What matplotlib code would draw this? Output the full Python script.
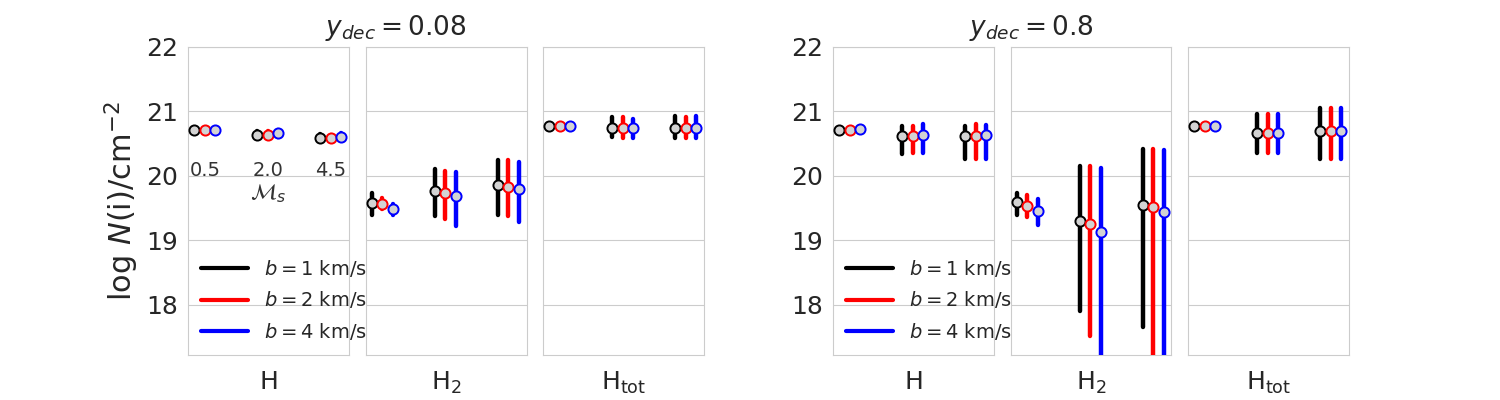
import numpy as np
import matplotlib
matplotlib.use('Agg')
import matplotlib.pyplot as plt
import seaborn as sns

sns.set_style('whitegrid')

mach_labels = ['0.5', '2.0', '4.5']
b_values = [1, 2, 4]
colors = ['black', 'red', 'blue']
species = ['H', 'H$_2$', 'H$_{\\rm tot}$']
ydec_values = ['0.08', '0.8']

# values indexed [b][mach]; mid, lower end, upper end of bar
# ydec = 0.08
H_08_mid = [[20.71, 20.64, 20.59], [20.71, 20.64, 20.59], [20.71, 20.66, 20.61]]
H_08_lo = [[20.70, 20.59, 20.55], [20.70, 20.58, 20.54], [20.70, 20.61, 20.56]]
H_08_hi = [[20.72, 20.70, 20.65], [20.72, 20.69, 20.64], [20.72, 20.71, 20.66]]

H2_08_mid = [[19.58, 19.77, 19.86], [19.56, 19.73, 19.83], [19.48, 19.69, 19.80]]
H2_08_lo = [[19.39, 19.37, 19.40], [19.48, 19.33, 19.37], [19.40, 19.22, 19.28]]
H2_08_hi = [[19.73, 20.10, 20.24], [19.65, 20.08, 20.24], [19.56, 20.06, 20.22]]

Ht_08_mid = [[20.77, 20.75, 20.74], [20.77, 20.75, 20.74], [20.77, 20.75, 20.74]]
Ht_08_lo = [[20.76, 20.61, 20.58], [20.76, 20.58, 20.59], [20.76, 20.59, 20.58]]
Ht_08_hi = [[20.78, 20.91, 20.93], [20.78, 20.91, 20.91], [20.78, 20.89, 20.93]]

# ydec = 0.8
H_8_mid = [[20.71, 20.62, 20.62], [20.71, 20.62, 20.62], [20.72, 20.64, 20.63]]
H_8_lo = [[20.70, 20.34, 20.26], [20.70, 20.36, 20.26], [20.71, 20.36, 20.26]]
H_8_hi = [[20.72, 20.77, 20.77], [20.72, 20.78, 20.80], [20.73, 20.80, 20.79]]

H2_8_mid = [[19.59, 19.30, 19.55], [19.54, 19.25, 19.52], [19.46, 19.13, 19.44]]
H2_8_lo = [[19.40, 17.90, 17.66], [19.36, 17.51, 16.90], [19.24, 16.90, 16.80]]
H2_8_hi = [[19.74, 20.16, 20.41], [19.70, 20.15, 20.41], [19.64, 20.12, 20.40]]

Ht_8_mid = [[20.77, 20.66, 20.69], [20.77, 20.66, 20.69], [20.77, 20.66, 20.69]]
Ht_8_lo = [[20.76, 20.36, 20.26], [20.76, 20.36, 20.26], [20.76, 20.36, 20.26]]
Ht_8_hi = [[20.78, 20.96, 21.05], [20.78, 20.96, 21.05], [20.78, 20.96, 21.05]]

groups = [
    [(H_08_mid, H_08_lo, H_08_hi), (H2_08_mid, H2_08_lo, H2_08_hi), (Ht_08_mid, Ht_08_lo, Ht_08_hi)],
    [(H_8_mid, H_8_lo, H_8_hi), (H2_8_mid, H2_8_lo, H2_8_hi), (Ht_8_mid, Ht_8_lo, Ht_8_hi)],
]

fig = plt.figure(figsize=(15, 4), dpi=100)
W, H = 1500., 400.
group_left = [188, 833]
panel_w = 161
panel_step = 177.5
offsets = [-0.167, 0.0, 0.167]
xpos = np.arange(len(mach_labels))

for g, panels in enumerate(groups):
    for p, (mid, lo, hi) in enumerate(panels):
        left = group_left[g] + p * panel_step
        ax = fig.add_axes([left / W, 45 / H, panel_w / W, 308 / H])
        for k in range(len(b_values)):
            m = np.array(mid[k])
            yerr = [m - np.array(lo[k]), np.array(hi[k]) - m]
            _, _, bars = ax.errorbar(xpos + offsets[k], m, yerr=yerr, fmt='o', color=colors[k],
                                     ecolor=colors[k], elinewidth=3.2, capsize=0,
                                     mfc='lightgray', mec=colors[k], mew=1.4, ms=7.3, zorder=3)
            for bc in bars:
                bc.set_capstyle('round')
        ax.set_xlim(-0.27, 2.29)
        ax.set_ylim(17.22, 22)
        ax.set_yticks([18, 19, 20, 21, 22])
        ax.set_xticks([])
        ax.grid(axis='x', visible=False)
        ax.set_xlabel(species[p], fontsize=18, labelpad=11)
        if p == 0:
            ax.set_zorder(5)  # legend spills over into the next panel
            ax.tick_params(axis='y', labelsize=18)
            for k in range(len(b_values)):
                ax.plot([], [], color=colors[k], lw=3, label='$b = %d$ km/s' % b_values[k])
            ax.legend(loc='lower left', fontsize=14, frameon=False, handlelength=2.4,
                      bbox_to_anchor=(-0.025, -0.015), labelspacing=0.55, handletextpad=0.8)
            if g == 0:
                ax.set_ylabel('log $N$(i)/cm$^{-2}$', fontsize=22)
                for i, lab in enumerate(mach_labels):
                    ax.text(xpos[i], 20.08, lab, ha='center', va='center', fontsize=14, color='0.2')
                ax.text(1, 19.73, '$\\mathcal{M}_s$', ha='center', va='center', fontsize=16, color='0.2')
        else:
            ax.set_yticklabels([])
            ax.tick_params(axis='y', length=0)
    fig.text([396, 1031][g] / W, 1 - 28 / H, '$y_{dec} = %s$' % ydec_values[g],
             ha='center', va='center', fontsize=19, color='0.15')

fig.savefig('out.png', dpi=100)
